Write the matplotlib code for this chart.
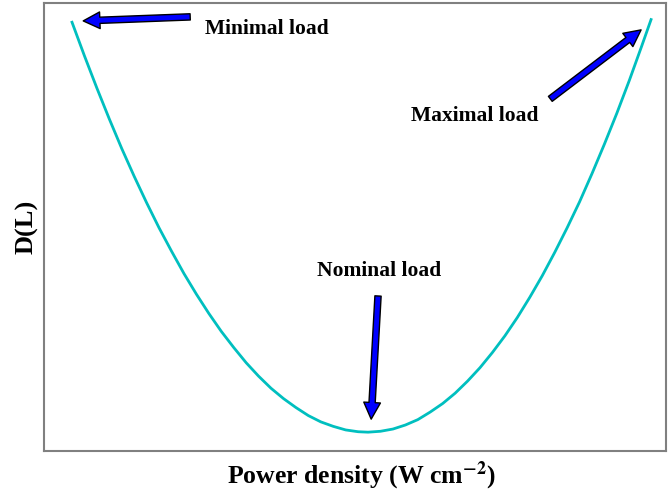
import matplotlib
matplotlib.use("Agg")
import matplotlib.pyplot as plt

plt.rcParams['font.family'] = ['Liberation Serif', 'DejaVu Serif']
plt.rcParams['font.weight'] = 'bold'
plt.rcParams['mathtext.fontset'] = 'stix'
plt.rcParams['mathtext.default'] = 'bf'

# curve (arbitrary units)
power = [0.45, 0.65, 0.85, 1.05, 1.25, 1.45, 1.65, 1.85, 2.05, 2.25, 2.45, 2.65, 2.85,
         3.05, 3.25, 3.45, 3.65, 3.85, 4.05, 4.25, 4.45, 4.65, 4.85, 5.05, 5.21,
         5.41, 5.61, 5.81, 6.01, 6.21, 6.41, 6.61, 6.81, 7.01, 7.21, 7.41, 7.61,
         7.81, 8.01, 8.21, 8.41, 8.61, 8.81, 9.01, 9.21, 9.41, 9.61, 9.76]
dl = [0.957, 0.882, 0.810, 0.741, 0.675, 0.613, 0.554, 0.498, 0.446, 0.396, 0.350, 0.307, 0.267,
      0.231, 0.197, 0.167, 0.140, 0.117, 0.097, 0.079, 0.065, 0.055, 0.047, 0.043, 0.042,
      0.044, 0.049, 0.058, 0.070, 0.087, 0.106, 0.129, 0.156, 0.186, 0.220, 0.257, 0.298,
      0.343, 0.391, 0.443, 0.498, 0.556, 0.619, 0.685, 0.754, 0.827, 0.904, 0.963]

# annotations: label, label position, arrow tail, arrow tip
labels = ['Minimal load', 'Maximal load', 'Nominal load']
label_xy = [(2.59, 0.943), (5.90, 0.748), (5.38, 0.402)]
label_ha = ['left', 'left', 'center']
tail_xy = [(2.35, 0.969), (8.14, 0.786), (5.37, 0.346)]
tip_xy = [(0.63, 0.960), (9.60, 0.940), (5.26, 0.071)]

fig = plt.figure(figsize=(6.69, 4.98), dpi=100)
ax = fig.add_axes([0.0658, 0.0944, 0.9297, 0.8996])

ax.plot(power, dl, color='c', lw=2)

for lab, lxy, ha, t0, t1 in zip(labels, label_xy, label_ha, tail_xy, tip_xy):
    ax.annotate('', xy=t1, xytext=t0,
                arrowprops=dict(facecolor='blue', edgecolor='black', lw=1,
                                width=4.5, headwidth=12, headlength=12, shrink=0))
    ax.text(lxy[0], lxy[1], lab, ha=ha, va='center', fontsize=15.5, fontweight='bold')

ax.set_xlim(0, 10)
ax.set_ylim(0, 1)
ax.set_xticks([])
ax.set_yticks([])
for s in ax.spines.values():
    s.set_color('#808080')
    s.set_linewidth(1.5)

ax.set_xlabel(r'Power density (W cm$^{-2}$)', fontsize=18.5, fontweight='bold', labelpad=6)
ax.xaxis.label.set_x(0.51)
ax.set_ylabel('D(L)', fontsize=19, fontweight='bold', labelpad=4)

plt.savefig('out.png', dpi=100)
